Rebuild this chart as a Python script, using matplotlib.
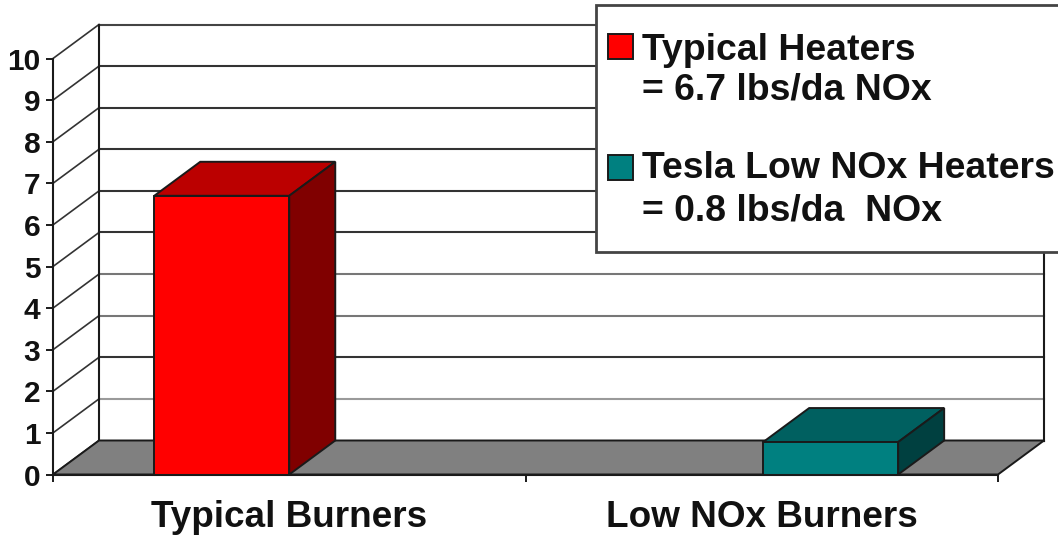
import matplotlib
matplotlib.use("Agg")
import matplotlib.pyplot as plt
from matplotlib.patches import Polygon, Rectangle

categories = ["Typical Burners", "Low NOx Burners"]
series_names = ["Typical Heaters", "Tesla Low NOx Heaters"]
typical_values = [6.7, 0]
low_nox_values = [0, 0.78]
y_ticks = list(range(0, 11))
legend_lines = [["Typical Heaters", "= 6.7 lbs/da NOx"],
                ["Tesla Low NOx Heaters", "= 0.8 lbs/da  NOx"]]

W, H = 1058, 538
FONT = "Liberation Sans"
plt.rcParams["font.family"] = FONT
plt.rcParams["font.weight"] = "bold"

fig = plt.figure(figsize=(W / 100, H / 100), dpi=100, facecolor="white")
L, R, B, T = 53, 998, 474.5, 58.5
ax = fig.add_axes([L / W, 1 - B / H, (R - L) / W, (B - T) / H])
ax.set_xlim(0, 2)
ax.set_ylim(0, 10)
ax.patch.set_visible(False)
for s in ax.spines.values():
    s.set_visible(False)

px_x = (R - L) / 2
px_y = (B - T) / 10
dx = 46 / px_x
dy = 34 / px_y
EDGE = "#1a1a1a"
GRID = {0: EDGE, 1: "#9a9a9a", 2: "#333333", 3: "#777777", 4: "#777777", 5: "#333333",
        6: "#333333", 7: "#333333", 8: "#333333", 9: "#333333", 10: "#444444"}


def poly(pts, fc, z, ec=EDGE, lw=1.4):
    ax.add_patch(Polygon(pts, closed=True, facecolor=fc, edgecolor=ec, linewidth=lw,
                         zorder=z, clip_on=False, joinstyle="miter"))


# walls and gridlines
for v in y_ticks:
    ax.plot([dx, 2 + dx], [v + dy, v + dy], color=GRID[v], lw=1.5, zorder=1, clip_on=False)
    ax.plot([0, dx], [v, v + dy], color="#333333", lw=1.2, zorder=1, clip_on=False)
ax.plot([dx, dx], [dy, 10 + dy], color=EDGE, lw=1.5, zorder=1.5, clip_on=False)
ax.plot([2 + dx, 2 + dx], [dy, 10 + dy], color=EDGE, lw=1.5, zorder=1.5, clip_on=False)
poly([(0, 0), (2, 0), (2 + dx, dy), (dx, dy)], "#808080", 2)

# bars
width = 0.2857
palette = [("#ff0000", "#bb0000", "#800000"), ("#008080", "#006060", "#004040")]
slots = [(-width, typical_values), (0.003, low_nox_values)]
for (off, values), (front, top, side) in zip(slots, palette):
    for i, v in enumerate(values):
        if v <= 0:
            continue
        x0 = i + 0.5 + off
        x1 = x0 + width
        poly([(x0, v), (x1, v), (x1 + dx, v + dy), (x0 + dx, v + dy)], top, 3)
        poly([(x1, 0), (x1 + dx, dy), (x1 + dx, v + dy), (x1, v)], side, 3)
        ax.bar(x0, v, width=width, align="edge", color=front, edgecolor=EDGE,
               linewidth=1.4, zorder=4, clip_on=False)

# axes
ax.spines["left"].set_visible(True)
ax.spines["left"].set_color(EDGE)
ax.spines["left"].set_linewidth(1.5)
ax.spines["bottom"].set_visible(True)
ax.spines["bottom"].set_color(EDGE)
ax.spines["bottom"].set_linewidth(1.5)
ax.spines["left"].set_zorder(5)
ax.spines["bottom"].set_zorder(5)
ax.set_yticks(y_ticks)
ax.set_yticklabels([str(v) for v in y_ticks], fontsize=21.5, fontweight="bold", color="#111111")
ax.tick_params(axis="y", length=5, width=1.4, color=EDGE, pad=4)
ax.set_xticks([0, 1, 2])
ax.set_xticklabels(["", "", ""])
ax.tick_params(axis="x", which="major", length=5, width=1.4, color=EDGE)
ax.set_xticks([0.5, 1.5], minor=True)
ax.set_xticklabels(categories, minor=True, fontsize=26.6, fontweight="bold", color="#111111")
ax.tick_params(axis="x", which="minor", length=0, pad=18.5)

# legend
fig.add_artist(Rectangle((596 / W, 1 - 252 / H), 480 / W, 247 / H, transform=fig.transFigure,
                         facecolor="white", edgecolor="#444444", linewidth=2, zorder=10,
                         clip_on=True))
for name, color, (y_sw, y1, y2), lines in zip(
        series_names, ["#ff0000", "#008080"],
        [(47, 50, 90), (167, 168, 211)], legend_lines):
    fig.add_artist(Rectangle((608 / W, 1 - (y_sw + 12.5) / H), 25 / W, 25 / H,
                             transform=fig.transFigure, facecolor=color, edgecolor=EDGE,
                             linewidth=1.4, zorder=11))
    for txt, y in zip(lines, (y1, y2)):
        fig.text(642 / W, 1 - y / H, txt, fontsize=26.9, fontweight="bold", color="#111111",
                 va="center", ha="left", zorder=11)

fig.savefig("out.png", dpi=100)
